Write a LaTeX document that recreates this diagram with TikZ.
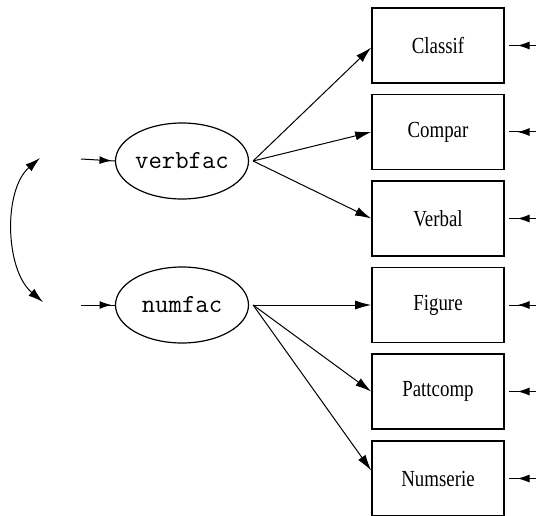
\documentclass[tikz,border=0pt]{standalone}
\usepackage{fontspec}
\newfontfamily\boxfont[FakeStretch=0.82]{Liberation Serif}
\usetikzlibrary{arrows.meta,shapes.geometric,decorations.markings}

\begin{document}
\begin{tikzpicture}[x=1pt, y=-1pt,
        var/.style={draw, line width=1.6pt, minimum width=132pt, minimum height=75pt, inner sep=0pt,
            font=\boxfont\fontsize{23}{26}\selectfont},
        fac/.style={draw, ellipse, line width=1.2pt, minimum width=133pt, minimum height=76pt, inner sep=0pt,
            font=\ttfamily\fontsize{26}{28}\selectfont},
        arrow/.style={-{Latex[length=16pt,width=9pt]}, line width=1pt},
        err/.style={line width=1pt, postaction={decorate},
            decoration={markings, mark=at position #1 with {\arrow{Latex[length=12pt,width=8pt]}}}},
        err/.default=0.68
    ]
        \useasboundingbox (0,0) rectangle (536,516);

        % 因子
        \node[fac] (verbfac) at (182,161) {verbfac};
        \node[fac] (numfac) at (182,305) {numfac};

        % 观测变量
        \node[var] (classif) at (438,45.5) {Classif};
        \node[var] (compar) at (438,132) {Compar};
        \node[var] (verbal) at (438,218.5) {Verbal};
        \node[var] (figure) at (438,305) {Figure};
        \node[var] (pattcomp) at (438,391.5) {Pattcomp};
        \node[var] (numserie) at (438,478.5) {Numserie};

        % 载荷
        \draw[arrow] ([xshift=4pt]verbfac.east) -- ([yshift=-2pt]classif.west);
        \draw[arrow] ([xshift=4pt]verbfac.east) -- (compar.west);
        \draw[arrow] ([xshift=4pt]verbfac.east) -- (verbal.west);
        \draw[arrow] ([xshift=4pt]numfac.east) -- (figure.west);
        \draw[arrow] ([xshift=4pt]numfac.east) -- (pattcomp.west);
        \draw[arrow] ([xshift=4pt]numfac.east) -- ([yshift=8pt]numserie.west);

        % 误差项
        \coordinate (ev) at (81,159);
        \coordinate (en) at (81,305);
        \draw[err=0.9] (ev) -- (verbfac.west);
        \draw[err=0.9] (en) -- (numfac.west);
        \foreach \v in {classif,compar,verbal,figure,pattcomp,numserie}
            \draw[err] (536,0 |- \v.east) -- ([xshift=4pt]\v.east);

        % 相关
        \coordinate (c1) at (40,158);
        \coordinate (c2) at (43,302);
        \draw[{Latex[length=15pt,width=9pt]}-{Latex[length=15pt,width=9pt]}, line width=1pt]
            (c1) .. controls (3,190) and (5,270) .. (c2);
    \end{tikzpicture}
\end{document}
